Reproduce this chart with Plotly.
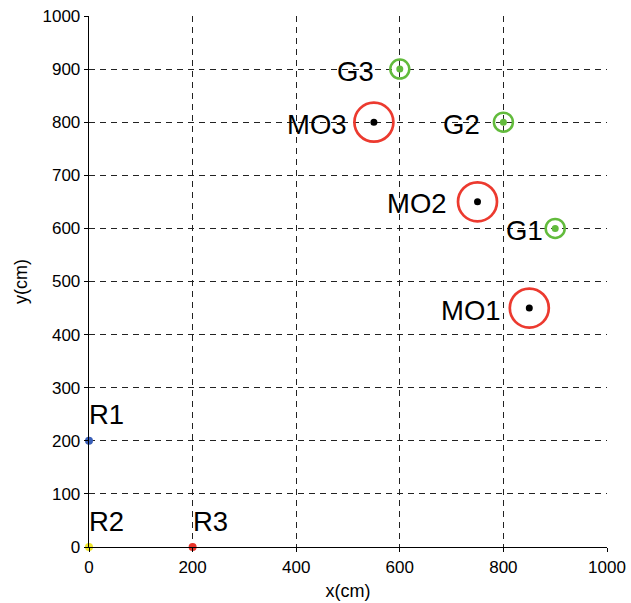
import plotly.graph_objects as go

# Data
mo_labels = ["MO1", "MO2", "MO3"]
mo_x = [850, 750, 550]
mo_y = [450, 650, 800]

g_labels = ["G1", "G2", "G3"]
g_x = [900, 800, 600]
g_y = [600, 800, 900]

r_labels = ["R1", "R2", "R3"]
r_x = [0, 0, 200]
r_y = [200, 0, 0]
r_colors = ["#3a5fb8", "#f0e62a", "#e8332a"]

tick_vals = [0, 100, 200, 300, 400, 500, 600, 700, 800, 900, 1000]
x_tick_vals = [0, 200, 400, 600, 800, 1000]

FONT = "Liberation Sans, Arial, sans-serif"
RED = "#ec3a2f"
GREEN = "#62bb3c"

fig = go.Figure()

# Moving obstacles: red open circles
fig.add_trace(go.Scatter(
    x=mo_x, y=mo_y, mode="markers",
    marker=dict(symbol="circle-open", size=39, color=RED, line=dict(width=2.7, color=RED)),
    hoverinfo="skip", showlegend=False))
fig.add_trace(go.Scatter(
    x=mo_x, y=mo_y, mode="markers",
    marker=dict(symbol="circle", size=7, color="black"),
    hoverinfo="skip", showlegend=False))

# Goals: green small circles with dot
fig.add_trace(go.Scatter(
    x=g_x, y=g_y, mode="markers",
    marker=dict(symbol="circle-open", size=19, color=GREEN, line=dict(width=2.5, color=GREEN)),
    hoverinfo="skip", showlegend=False))
fig.add_trace(go.Scatter(
    x=g_x, y=g_y, mode="markers",
    marker=dict(symbol="circle", size=7, color=GREEN),
    hoverinfo="skip", showlegend=False))

# Robots
fig.add_trace(go.Scatter(
    x=r_x, y=r_y, mode="markers",
    marker=dict(symbol="circle", size=8, color=r_colors),
    cliponaxis=False, hoverinfo="skip", showlegend=False))

annotations = []
mo_shift = {"MO1": -28, "MO2": -31, "MO3": -27}
for lab, x, y in zip(mo_labels, mo_x, mo_y):
    annotations.append(dict(x=x, y=y, xref="x", yref="y", text=lab, showarrow=False,
                            xanchor="right", yanchor="middle", xshift=mo_shift[lab] + 2,
                            yshift=-2, font=dict(family=FONT, size=27.5, color="black")))
g_shift = {"G1": -12, "G2": -23, "G3": -26}
for lab, x, y in zip(g_labels, g_x, g_y):
    annotations.append(dict(x=x, y=y, xref="x", yref="y", text=lab, showarrow=False,
                            xanchor="right", yanchor="middle", xshift=g_shift[lab] + 2,
                            yshift=-2, font=dict(family=FONT, size=27.5, color="black")))
for lab, x, y in zip(r_labels, r_x, r_y):
    annotations.append(dict(x=x, y=y, xref="x", yref="y", text=lab, showarrow=False,
                            xanchor="left", yanchor="middle", xshift=-2,
                            yshift=26, font=dict(family=FONT, size=27.5, color="black")))

axis_common = dict(
    showgrid=True, gridcolor="#222222", gridwidth=1, griddash="6px,5px",
    zeroline=False, showline=True, linecolor="black", linewidth=1.3,
    ticks="outside", ticklen=4, tickcolor="black",
    tickfont=dict(family=FONT, size=17, color="black"),
    mirror=False, automargin=False,
)

fig.update_layout(
    width=631, height=603,
    margin=dict(l=89, r=24, t=16, b=56),
    paper_bgcolor="white", plot_bgcolor="white",
    xaxis=dict(range=[0, 1000], tickvals=x_tick_vals,
               title=dict(text="x(cm)", font=dict(family=FONT, size=18, color="black"), standoff=8),
               **axis_common),
    yaxis=dict(range=[0, 1000], tickvals=tick_vals,
               title=dict(text="y(cm)", font=dict(family=FONT, size=18, color="black"), standoff=10),
               **axis_common),
    annotations=annotations,
)

fig.write_html("out.html",
               config={"displayModeBar": False, "staticPlot": True},
               post_script="document.body.style.margin='0';document.body.style.overflow='hidden';")
